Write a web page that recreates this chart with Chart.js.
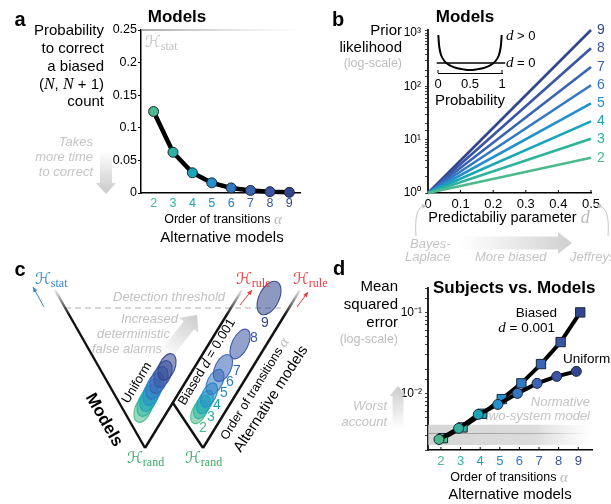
<!DOCTYPE html>
<html><head><meta charset="utf-8">
<script src="https://cdn.jsdelivr.net/npm/chart.js@4.4.1/dist/chart.umd.min.js"></script>
<style>
html,body{margin:0;padding:0;background:#fff;}
#wrap{position:relative;width:611px;height:504px;overflow:hidden;background:#fff;}
#wrap canvas{position:absolute;left:0;top:0;}
</style></head><body>
<div id="wrap">
<canvas id="ca" width="611" height="504"></canvas>
<canvas id="cb" width="611" height="504"></canvas>
<canvas id="cbi" width="611" height="504"></canvas>
<canvas id="cc" width="611" height="504"></canvas>
<canvas id="cd" width="611" height="504"></canvas>
</div>
<script>
// ---------------- DATA ----------------
const orders = [2, 3, 4, 5, 6, 7, 8, 9];
// panel a: probability to correct a biased (N, N+1) count
const correctProb = [0.125, 0.0625, 0.031, 0.0156, 0.0078, 0.0039, 0.002, 0.001];
const yTicksA = [0, 0.05, 0.1, 0.15, 0.2, 0.25];
// panel b: prior likelihood at d = 0 and d = 0.5
const predictability = [0, 0.5];
const priorAtZero = [1, 1, 1, 1, 1, 1, 1, 1];
const priorAtHalf = [4.6, 10.4, 22, 48, 105, 230, 520, 1140];
const yTickLabelsB = ['10⁰', '10¹', '10²', '10³'];
const xTicksB = [0, 0.1, 0.2, 0.3, 0.4, 0.5];
// panel b inset: prior density over probability
const insetProbX = [0.005, 0.02, 0.05, 0.1, 0.15, 0.2, 0.3, 0.4, 0.5, 0.6, 0.7, 0.8, 0.85, 0.9, 0.95, 0.98, 0.995];
const insetBiased = [3.8, 2.6, 1.75, 1.2, 0.9, 0.72, 0.48, 0.36, 0.3, 0.36, 0.48, 0.72, 0.9, 1.2, 1.75, 2.6, 3.8];
const insetUniformX = [-0.02, 1.05];
const insetUniform = [1, 1];
// panel c: schematic (abstract units)
const armV1Left = [[3.5, 18.0], [12.5, 2.2]];
const armV1Right = [[12.5, 2.2], [22.2, 18.0]];
const armV2Left = [[15.3, 6.7], [18.3, 2.2]];
const armV2Right = [[18.3, 2.2], [28.0, 18.0]];
const thresholdLine = [[4.5, 16.2], [26.3, 16.2]];
const uniformX = [12.3, 12.6, 12.9, 13.2, 13.5, 13.9, 14.3, 14.7];
const uniformY = [6.1, 6.7, 7.2, 7.8, 8.4, 9.0, 9.6, 10.3];
const biasedX = [17.9, 18.2, 18.5, 18.9, 19.5, 20.3, 22.0, 24.9];
const biasedY = [5.8, 6.3, 6.8, 7.5, 8.8, 10.2, 12.6, 17.2];
const biasedLabelX = [18.3, 19.1, 19.7, 20.4, 21.0, 21.7, 23.4, 24.5];
const biasedLabelY = [4.2, 5.3, 6.5, 7.7, 8.8, 9.9, 13.2, 14.7];
const statArrow = [[2.4, 16.3], [1.3, 18.3]];
const ruleArrows = [[[22.0, 16.5], [23.2, 18.0]], [[27.7, 16.3], [28.8, 17.8]]];
const falseAlarmArrow = [[14.3, 11.2], [17.7, 15.5]];
// panel d: mean squared error
const mseBiased = [0.0028, 0.0038, 0.0056, 0.0085, 0.0133, 0.023, 0.043, 0.1];
const mseUniform = [0.0027, 0.0037, 0.0055, 0.0073, 0.0100, 0.0133, 0.0162, 0.0187];
const normativeBand = [0.0023, 0.0032, 0.0041];
const yTickLabelsD = ['10⁻²', '10⁻¹'];

// ---------------- STYLE ----------------
const PAL = ['#4cba8c', '#2fb2a0', '#18a5b7', '#2490cd', '#3278c2', '#3a63b3', '#3a55a4', '#324690'];
const SANS = '"Liberation Sans", Arial, Helvetica, sans-serif';
const SERIF = '"Liberation Serif", "DejaVu Serif", serif';
const CAL = '"DejaVu Serif", "DejaVu Sans", serif';
Chart.defaults.font.family = SANS;
Chart.defaults.color = '#000';

function hexA(h, a) {
  const n = parseInt(h.slice(1), 16);
  return `rgba(${(n >> 16) & 255},${(n >> 8) & 255},${n & 255},${a})`;
}
function f(size, opt = '') { return `${opt} ${size}px ${SANS}`; }
function runs(c, parts, x, y, o = {}) {
  c.save();
  c.translate(x, y);
  if (o.rot) c.rotate(o.rot * Math.PI / 180);
  c.textBaseline = 'middle';
  let w = 0;
  parts.forEach(p => { c.font = p.f; w += c.measureText(p.t).width; });
  let cx = o.align === 'center' ? -w / 2 : (o.align === 'right' ? -w : 0);
  parts.forEach(p => {
    c.font = p.f; c.fillStyle = p.c || o.color || '#000';
    c.fillText(p.t, cx, p.dy || 0);
    cx += c.measureText(p.t).width;
  });
  c.restore();
}
function txt(c, s, x, y, font, o = {}) { runs(c, [{ t: s, f: font, c: o.color }], x, y, o); }
function calH(c, sub, x, y, color, o = {}) {
  runs(c, [{ t: 'ℋ', f: `italic 16px ${CAL}`, c: color }, { t: sub, f: `12px ${SERIF}`, c: color, dy: 4 }], x, y, o);
}
function wideArrow(c, x1, y1, x2, y2, sw, hw, hl, c1, c2) {
  const ang = Math.atan2(y2 - y1, x2 - x1), len = Math.hypot(x2 - x1, y2 - y1);
  c.save(); c.translate(x1, y1); c.rotate(ang);
  const g = c.createLinearGradient(0, 0, len, 0); g.addColorStop(0, c1); g.addColorStop(1, c2);
  c.fillStyle = g; c.beginPath();
  c.moveTo(0, -sw / 2); c.lineTo(len - hl, -sw / 2); c.lineTo(len - hl, -hw / 2); c.lineTo(len, 0);
  c.lineTo(len - hl, hw / 2); c.lineTo(len - hl, sw / 2); c.lineTo(0, sw / 2); c.closePath(); c.fill();
  c.restore();
}
function arrowHead(c, x, y, ang, size, color) {
  c.save(); c.translate(x, y); c.rotate(ang); c.fillStyle = color;
  c.beginPath(); c.moveTo(0, 0); c.lineTo(-size, -size * 0.45); c.lineTo(-size, size * 0.45); c.closePath(); c.fill();
  c.restore();
}
function thinArrow(c, x1, y1, x2, y2, color, w = 1) {
  c.save(); c.strokeStyle = color; c.lineWidth = w;
  c.beginPath(); c.moveTo(x1, y1); c.lineTo(x2, y2); c.stroke(); c.restore();
  arrowHead(c, x2, y2, Math.atan2(y2 - y1, x2 - x1), 5, color);
}
function fixW(w) { return s => { s.width = w; s.paddingTop = s.paddingBottom = s.paddingLeft = s.paddingRight = 0; }; }
function fixH(h) { return s => { s.height = h; s.paddingTop = s.paddingBottom = s.paddingLeft = s.paddingRight = 0; }; }
function pad(L, T, R, B, yW, xH) { return { left: L - yW, top: T, right: 611 - R, bottom: 504 - B - xH }; }
function inwardTicks(chart, values, len = 3) {
  const c = chart.ctx, xs = chart.scales.x, b = chart.chartArea.bottom;
  c.save(); c.strokeStyle = '#000'; c.lineWidth = 1;
  values.forEach(v => { const px = xs.getPixelForValue(v); c.beginPath(); c.moveTo(px, b); c.lineTo(px, b - len); c.stroke(); });
  c.restore();
}
function logLabel(labels, base) {
  return v => { const e = Math.log10(v), r = Math.round(e); return Math.abs(e - r) < 1e-9 ? (labels[r - base] || '') : ''; };
}
const baseOpts = { responsive: false, animation: false, devicePixelRatio: 1, events: [],
  plugins: { legend: { display: false }, tooltip: { enabled: false } } };
const axisBorder = { display: true, color: '#000', width: 1.5 };

// ---------------- PANEL A ----------------
new Chart(document.getElementById('ca'), {
  type: 'scatter',
  data: { datasets: [{
    data: orders.map((o, i) => ({ x: o, y: correctProb[i] })),
    showLine: true, borderColor: '#000', borderWidth: 4.5, clip: false,
    pointRadius: 5, pointBackgroundColor: PAL, pointBorderColor: '#1b2638', pointBorderWidth: 1
  }] },
  options: { ...baseOpts,
    layout: { padding: pad(141, 30, 300, 193, 40, 22) },
    scales: {
      x: { type: 'linear', min: 1.35, max: 9.55, afterFit: fixH(22), border: axisBorder,
        grid: { display: false, drawTicks: false },
        ticks: { stepSize: 1, includeBounds: false, padding: 3, font: { size: 12.5 },
          color: c => PAL[orders.indexOf(c.tick.value)] || '#000',
          callback: v => orders.includes(v) ? String(v) : '' } },
      y: { type: 'linear', min: yTicksA[0], max: yTicksA[yTicksA.length - 1], afterFit: fixW(40), border: axisBorder,
        grid: { drawOnChartArea: false, drawTicks: true, tickLength: 3, color: '#000' },
        ticks: { stepSize: 0.05, padding: 1, font: { size: 12.5 },
          callback: v => yTicksA.some(t => Math.abs(t - v) < 1e-9) ? String(+v.toFixed(2)) : '' } }
    } },
  plugins: [{ id: 'annA', afterDraw(ch) {
    const c = ch.ctx, A = ch.chartArea;
    const g = c.createLinearGradient(A.left, 0, A.right + 5, 0);
    g.addColorStop(0, '#8a8a8a'); g.addColorStop(1, 'rgba(200,200,200,0)');
    c.save(); c.strokeStyle = g; c.lineWidth = 1.5; c.beginPath(); c.moveTo(A.left, A.top); c.lineTo(A.right + 5, A.top); c.stroke(); c.restore();
    calH(c, 'stat', 145, 43, '#c4c4c4');
    txt(c, 'a', 20, 20, f(20, 'bold'), { align: 'center' });
    txt(c, 'Models', 177, 17, f(17, 'bold'), { align: 'center' });
    const yl = [['Probability', 31], ['to correct', 49], ['a biased', 67], ['count', 102]];
    yl.forEach(([s, y]) => txt(c, s, 104, y, f(15), { align: 'right' }));
    runs(c, [{ t: '(', f: f(15) }, { t: 'N', f: `italic 16px ${SERIF}` }, { t: ', ', f: f(15) },
      { t: 'N', f: `italic 16px ${SERIF}` }, { t: ' + 1)', f: f(15) }], 104, 85, { align: 'right' });
    [['Takes', 142], ['more time', 157], ['to correct', 172]].forEach(([s, y]) => txt(c, s, 93, y, f(13, 'italic'), { align: 'right', color: '#c4c4c4' }));
    wideArrow(c, 106, 150, 106, 194, 12, 20, 11, 'rgba(205,205,205,0)', '#c9c9c9');
    runs(c, [{ t: 'Order of transitions ', f: f(12.5) }, { t: 'α', f: `italic 15px ${SERIF}`, c: '#bbbbbb' }], 223, 220, { align: 'center' });
    txt(c, 'Alternative models', 222, 238, f(15), { align: 'center' });
  } }]
});

// ---------------- PANEL B ----------------
new Chart(document.getElementById('cb'), {
  type: 'scatter',
  data: { datasets: orders.map((o, i) => ({
    data: predictability.map((d, k) => ({ x: d, y: k === 0 ? priorAtZero[i] : priorAtHalf[i] })),
    showLine: true, borderColor: PAL[i], borderWidth: 2.6, pointRadius: 0, clip: false
  })) },
  options: { ...baseOpts,
    layout: { padding: pad(428, 30, 591, 193, 40, 22) },
    scales: {
      x: { type: 'linear', min: 0, max: 0.5, afterFit: fixH(22), border: axisBorder,
        grid: { display: false, drawTicks: false },
        ticks: { stepSize: 0.1, padding: 4, font: { size: 13 },
          callback: v => xTicksB.some(t => Math.abs(t - v) < 1e-9) ? String(+v.toFixed(1)) : '' } },
      y: { type: 'logarithmic', min: 1, max: 1140, afterFit: fixW(40),
        border: { display: true, color: '#222', width: 2 },
        grid: { drawOnChartArea: false, drawTicks: true, tickLength: 3, color: '#444' },
        ticks: { autoSkip: false, padding: 4, font: { size: 12 }, callback: logLabel(yTickLabelsB, 0) } }
    } },
  plugins: [{ id: 'annB', afterDraw(ch) {
    const c = ch.ctx, xs = ch.scales.x, ys = ch.scales.y;
    inwardTicks(ch, xTicksB.slice(1));
    orders.forEach((o, i) => txt(c, String(o), xs.getPixelForValue(0.5) + 6, ys.getPixelForValue(priorAtHalf[i]), f(14), { color: PAL[i] }));
    txt(c, 'b', 338, 20, f(20, 'bold'), { align: 'center' });
    txt(c, 'Models', 465, 17, f(17, 'bold'), { align: 'center' });
    txt(c, 'Prior', 402, 31, f(15), { align: 'right' });
    txt(c, 'likelihood', 402, 48, f(15), { align: 'right' });
    txt(c, '(log-scale)', 402, 64, f(12.5), { align: 'right', color: '#bdbdbd' });
    runs(c, [{ t: 'Predictabiliy parameter ', f: f(14.5) }, { t: 'd', f: `italic 18px ${SERIF}`, c: '#bbbbbb' }], 509, 218, { align: 'center' });
    wideArrow(c, 458, 243, 572, 243, 13, 22, 14, 'rgba(215,215,215,0)', '#cfcfcf');
    const gi = f(13, 'italic');
    txt(c, 'Bayes-', 410, 244, gi, { color: '#c4c4c4' });
    txt(c, 'Laplace', 405, 257, gi, { color: '#c4c4c4' });
    txt(c, 'More biased', 475, 257, gi, { color: '#c4c4c4' });
    txt(c, 'Jeffreys', 570, 257, gi, { color: '#c4c4c4' });
    c.save(); c.strokeStyle = '#c4c4c4'; c.lineWidth = 1;
    c.beginPath(); c.moveTo(416, 236); c.quadraticCurveTo(414, 207, 424, 206); c.stroke();
    c.beginPath(); c.moveTo(608, 236); c.quadraticCurveTo(610, 207, 599, 206); c.stroke();
    c.restore();
    arrowHead(c, 427, 205, -0.3, 5, '#c4c4c4');
    arrowHead(c, 596, 205, Math.PI + 0.3, 5, '#c4c4c4');
  } }]
});

// ---------------- PANEL B INSET ----------------
new Chart(document.getElementById('cbi'), {
  type: 'scatter',
  data: { datasets: [
    { data: insetProbX.map((x, i) => ({ x, y: insetBiased[i] })), showLine: true, borderColor: '#000', borderWidth: 2, pointRadius: 0, tension: 0.35, clip: false },
    { data: insetUniformX.map((x, i) => ({ x, y: insetUniform[i] })), showLine: true, borderColor: '#000', borderWidth: 1.6, pointRadius: 0, clip: false }
  ] },
  options: { ...baseOpts,
    layout: { padding: pad(438, 33, 502, 73, 0, 20) },
    scales: {
      x: { type: 'linear', min: 0, max: 1, afterFit: fixH(20), border: { display: true, color: '#000', width: 1 },
        grid: { display: false, drawTicks: false },
        ticks: { stepSize: 0.5, padding: 4, font: { size: 13 }, callback: v => String(v) } },
      y: { type: 'linear', min: 0, max: 4, display: false }
    } },
  plugins: [{ id: 'annBi', afterDraw(ch) {
    const c = ch.ctx, A = ch.chartArea;
    c.save(); c.strokeStyle = '#000'; c.lineWidth = 1;
    [A.left, A.right].forEach(x => { c.beginPath(); c.moveTo(x, A.bottom); c.lineTo(x, A.bottom - 3); c.stroke(); });
    c.restore();
    runs(c, [{ t: 'd', f: `italic 15px ${SERIF}` }, { t: ' > 0', f: f(13) }], 506, 36);
    runs(c, [{ t: 'd', f: `italic 15px ${SERIF}` }, { t: ' = 0', f: f(13) }], 506, 63);
    txt(c, 'Probability', 470, 101, f(15), { align: 'center' });
  } }]
});

// ---------------- PANEL C ----------------
function fadeColor(ctx) {
  const ch = ctx.chart, ds = ctx.dataset;
  if (!ds || !ds.fade || !ch.chartArea || !ch.scales.x) return '#111';
  const xs = ch.scales.x, ys = ch.scales.y;
  const a = ds.data[0], b = ds.data[ds.data.length - 1];
  const lo = a.y < b.y ? a : b, hi = a.y < b.y ? b : a;
  const g = ch.ctx.createLinearGradient(xs.getPixelForValue(lo.x), ys.getPixelForValue(lo.y), xs.getPixelForValue(hi.x), ys.getPixelForValue(hi.y));
  g.addColorStop(0, '#111'); g.addColorStop(0.84, '#111'); g.addColorStop(1, 'rgba(17,17,17,0.08)');
  return g;
}
const toPts = arr => arr.map(([x, y]) => ({ x, y }));
const armDs = (arr, fade) => ({ data: toPts(arr), fade, showLine: true, borderColor: fadeColor, borderWidth: 2.4, pointRadius: 0, clip: false });
const uniformSize = orders.map(() => [16, 28]);
const biasedSize = [[14, 25], [14, 25], [14, 25], [14, 26], [15, 27], [16, 29], [16, 32], [20, 36]];
new Chart(document.getElementById('cc'), {
  type: 'scatter',
  data: { datasets: [
    armDs(armV1Left, true), armDs(armV1Right, true), armDs(armV2Left, false), armDs(armV2Right, true),
    { data: toPts(thresholdLine), showLine: true, borderColor: '#b0b0b0', borderWidth: 1.2, borderDash: [6, 4], pointRadius: 0, clip: false },
    { data: uniformX.map((x, i) => ({ x, y: uniformY[i] })), pointRadius: 0, ellipses: uniformSize, tilt: 22 },
    { data: biasedX.map((x, i) => ({ x, y: biasedY[i] })), pointRadius: 0, ellipses: biasedSize, tilt: 26 }
  ] },
  options: { ...baseOpts,
    layout: { padding: { left: 20, top: 265, right: 301, bottom: 34 } },
    scales: { x: { type: 'linear', min: 0, max: 29, display: false }, y: { type: 'linear', min: 0, max: 20.5, display: false } } },
  plugins: [{ id: 'annC',
    beforeDatasetsDraw(ch) {
      const c = ch.ctx, xs = ch.scales.x, ys = ch.scales.y, P = (p) => [xs.getPixelForValue(p[0]), ys.getPixelForValue(p[1])];
      const [a1, a2] = [P(falseAlarmArrow[0]), P(falseAlarmArrow[1])];
      wideArrow(c, a1[0], a1[1], a2[0], a2[1], 13, 24, 13, 'rgba(210,210,210,0)', '#cbcbcb');
    },
    afterDatasetsDraw(ch) {
      const c = ch.ctx;
      ch.data.datasets.forEach((ds, di) => {
        if (!ds.ellipses) return;
        ch.getDatasetMeta(di).data.forEach((pt, i) => {
          const [w, h] = ds.ellipses[i];
          c.save(); c.beginPath();
          c.ellipse(pt.x, pt.y, w / 2, h / 2, ds.tilt * Math.PI / 180, 0, Math.PI * 2);
          c.fillStyle = hexA(PAL[i], 0.55); c.fill();
          c.strokeStyle = hexA(PAL[i], 0.95); c.lineWidth = 1.1; c.stroke(); c.restore();
        });
      });
    },
    afterDraw(ch) {
      const c = ch.ctx, xs = ch.scales.x, ys = ch.scales.y, P = (p) => [xs.getPixelForValue(p[0]), ys.getPixelForValue(p[1])];
      const s1 = P(statArrow[0]), s2 = P(statArrow[1]);
      thinArrow(c, s1[0], s1[1], s2[0], s2[1], '#3a86c8');
      ruleArrows.forEach(r => { const p1 = P(r[0]), p2 = P(r[1]); thinArrow(c, p1[0], p1[1], p2[0], p2[1], '#e63b3b'); });
      orders.forEach((o, i) => txt(c, String(o), xs.getPixelForValue(biasedLabelX[i]), ys.getPixelForValue(biasedLabelY[i]), f(14), { align: 'center', color: PAL[i] }));
      txt(c, 'c', 20, 270, f(20, 'bold'), { align: 'center' });
      calH(c, 'stat', 35, 280, '#3a86c8');
      calH(c, 'rule', 236, 280, '#e63b3b');
      calH(c, 'rule', 293, 280, '#e63b3b');
      calH(c, 'rand', 127, 459, '#3aaa6a');
      calH(c, 'rand', 185, 459, '#3aaa6a');
      txt(c, 'Detection threshold', 169, 297, f(13, 'italic'), { align: 'center', color: '#c2c2c2' });
      txt(c, 'Increased', 178, 319, f(13, 'italic'), { align: 'right', color: '#c2c2c2' });
      txt(c, 'deterministic', 170, 334, f(13, 'italic'), { align: 'right', color: '#c2c2c2' });
      txt(c, 'false alarms', 162, 349, f(13, 'italic'), { align: 'right', color: '#c2c2c2' });
      txt(c, 'Models', 104, 420, f(17, 'bold'), { align: 'center', rot: 60 });
      txt(c, 'Uniform', 137, 383, f(13), { align: 'center', rot: -59 });
      runs(c, [{ t: 'Biased ', f: f(13) }, { t: 'd', f: `italic 15px ${SERIF}` }, { t: ' = 0.001', f: f(13) }], 207, 362, { align: 'center', rot: -59 });
      runs(c, [{ t: 'Order of transitions ', f: f(12.5) }, { t: 'α', f: `italic 15px ${SERIF}`, c: '#bbbbbb' }], 255, 389, { align: 'center', rot: -58 });
      txt(c, 'Alternative models', 271, 399, f(15), { align: 'center', rot: -57 });
    } }]
});

// ---------------- PANEL D ----------------
new Chart(document.getElementById('cd'), {
  type: 'scatter',
  data: { datasets: [
    { data: orders.map((o, i) => ({ x: o - 0.1, y: mseUniform[i] })), showLine: true, borderColor: '#000', borderWidth: 4, clip: false,
      pointStyle: 'circle', pointRadius: 5, pointBackgroundColor: PAL, pointBorderColor: '#1b2638', pointBorderWidth: 1 },
    { data: orders.map((o, i) => ({ x: o + 0.1, y: mseBiased[i] })), showLine: true, borderColor: '#000', borderWidth: 4, clip: false,
      pointStyle: 'rect', pointRadius: 6.6, pointBackgroundColor: PAL, pointBorderColor: '#1b2638', pointBorderWidth: 1 }
  ] },
  options: { ...baseOpts,
    layout: { padding: pad(428, 288, 592, 450, 40, 22) },
    scales: {
      x: { type: 'linear', min: 1.34, max: 9.7, afterFit: fixH(22), border: axisBorder,
        grid: { display: false, drawTicks: false },
        ticks: { stepSize: 1, includeBounds: false, padding: 4, font: { size: 13 },
          color: c => PAL[orders.indexOf(c.tick.value)] || '#000',
          callback: v => orders.includes(v) ? String(v) : '' } },
      y: { type: 'logarithmic', min: 0.002, max: 0.2, afterFit: fixW(40),
        border: { display: true, color: '#222', width: 2 },
        grid: { drawOnChartArea: false, drawTicks: true, tickLength: 3, color: '#444' },
        ticks: { autoSkip: false, padding: 3, font: { size: 12 }, callback: logLabel(yTickLabelsD, -2) } }
    } },
  plugins: [{ id: 'annD',
    beforeDatasetsDraw(ch) {
      const c = ch.ctx, A = ch.chartArea, ys = ch.scales.y;
      const y1 = ys.getPixelForValue(normativeBand[2]), y0 = ys.getPixelForValue(normativeBand[0]), ym = ys.getPixelForValue(normativeBand[1]);
      const g = c.createLinearGradient(A.left, 0, A.right, 0);
      g.addColorStop(0, 'rgba(200,200,200,0.75)'); g.addColorStop(0.65, 'rgba(205,205,205,0.7)'); g.addColorStop(1, 'rgba(220,220,220,0)');
      c.save(); c.fillStyle = g; c.fillRect(A.left, y1, A.right - A.left, y0 - y1);
      const g2 = c.createLinearGradient(A.left, 0, A.right, 0);
      g2.addColorStop(0, 'rgba(150,150,150,0.9)'); g2.addColorStop(0.7, 'rgba(160,160,160,0.7)'); g2.addColorStop(1, 'rgba(200,200,200,0)');
      c.strokeStyle = g2; c.lineWidth = 1; c.beginPath(); c.moveTo(A.left, ym); c.lineTo(A.right, ym); c.stroke(); c.restore();
      const gi = f(13, 'italic');
      txt(c, 'Normative', 590, 402, gi, { align: 'right', color: '#c2c2c2' });
      txt(c, 'two-system model', 590, 416, gi, { align: 'right', color: '#c2c2c2' });
    },
    afterDraw(ch) {
      const c = ch.ctx;
      inwardTicks(ch, orders);
      txt(c, 'd', 339, 269, f(20, 'bold'), { align: 'center' });
      txt(c, 'Subjects vs. Models', 433, 288, f(17, 'bold'));
      txt(c, 'Mean', 398, 287, f(15), { align: 'right' });
      txt(c, 'squared', 398, 305, f(15), { align: 'right' });
      txt(c, 'error', 398, 323, f(15), { align: 'right' });
      txt(c, '(log-scale)', 398, 340, f(12.5), { align: 'right', color: '#bdbdbd' });
      txt(c, 'Biased', 557, 313, f(13.5), { align: 'right' });
      runs(c, [{ t: 'd', f: `italic 15px ${SERIF}` }, { t: ' = 0.001', f: f(13.5) }], 555, 328, { align: 'right' });
      txt(c, 'Uniform', 563, 359, f(13.5));
      const gi = f(13, 'italic');
      txt(c, 'Worst', 387, 406, gi, { align: 'right', color: '#c2c2c2' });
      txt(c, 'account', 387, 422, gi, { align: 'right', color: '#c2c2c2' });
      wideArrow(c, 398, 430, 398, 386, 11, 17, 10, 'rgba(210,210,210,0)', '#cbcbcb');
      runs(c, [{ t: 'Order of transitions ', f: f(12.5) }, { t: 'α', f: `italic 15px ${SERIF}`, c: '#bbbbbb' }], 509, 478, { align: 'center' });
      txt(c, 'Alternative models', 510, 495, f(15), { align: 'center' });
    } }]
});
</script>
</body></html>
